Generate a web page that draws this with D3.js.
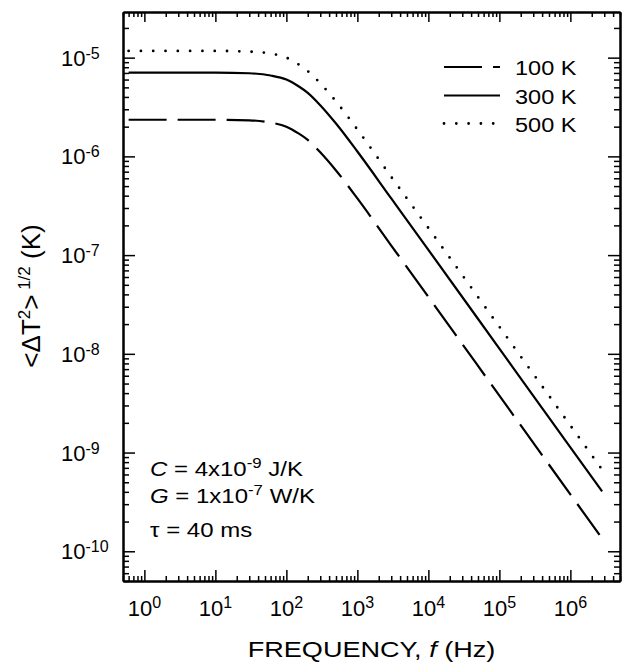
<!DOCTYPE html>
<html>
<head>
<meta charset="utf-8">
<script src="https://cdn.jsdelivr.net/npm/d3@7"></script>
<style>
  body { margin: 0; background: #fff; }
  text { font-family: "Liberation Sans", Arial, sans-serif; fill: #000; }
</style>
</head>
<body>
<svg id="chart" width="629" height="665"></svg>
<script>
var freq = [0.6, 1, 3, 10, 30, 60, 100, 150, 200, 300, 500, 1000, 3000, 1e4, 1e5, 1e6, 2.8e6];

// <dT^2>^1/2 (K) read for each temperature
var t100 = [2.35e-6, 2.35e-6, 2.35e-6, 2.35e-6, 2.32e-6, 2.2e-6, 2.0e-6, 1.7e-6, 1.47e-6, 1.1e-6, 7.2e-7, 3.75e-7, 1.25e-7, 3.77e-8, 3.77e-9, 3.77e-10, 1.35e-10];
var t300 = [7.05e-6, 7.05e-6, 7.05e-6, 7.05e-6, 6.95e-6, 6.6e-6, 6.0e-6, 5.1e-6, 4.4e-6, 3.3e-6, 2.15e-6, 1.12e-6, 3.75e-7, 1.13e-7, 1.13e-8, 1.13e-9, 4.05e-10];
var t500 = [1.17e-5, 1.17e-5, 1.17e-5, 1.17e-5, 1.15e-5, 1.1e-5, 1.0e-5, 8.5e-6, 7.3e-6, 5.5e-6, 3.6e-6, 1.87e-6, 6.2e-7, 1.88e-7, 1.88e-8, 1.88e-9, 6.7e-10];

var labels = ["100 K", "300 K", "500 K"];

var xMajor = [1, 10, 100, 1e3, 1e4, 1e5, 1e6];
var xExp = ["0", "1", "2", "3", "4", "5", "6"];
var yMajor = [1e-10, 1e-9, 1e-8, 1e-7, 1e-6, 1e-5];
var yExp = ["-10", "-9", "-8", "-7", "-6", "-5"];

(function() {
  var svg = d3.select("#chart");
  var mLeft = 123, mRight = 620, mTop = 12, mBottom = 581;

  var x = d3.scaleLog().domain([0.5, 5e6]).range([mLeft, mRight]);
  var y = d3.scaleLog().domain([5e-11, 2.9e-5]).range([mBottom, mTop]);

  var isMajor = function(v) { return Math.abs(Math.log10(v) - Math.round(Math.log10(v))) < 1e-6; };
  var xMinor = x.ticks().filter(function(v) { return !isMajor(v); });
  var yMinor = y.ticks().filter(function(v) { return !isMajor(v); });

  // axes, ticks pointing inwards
  function drawAxis(gen, tx, ty) {
    var g = svg.append("g").attr("transform", "translate(" + tx + "," + ty + ")").call(gen);
    g.select(".domain").attr("stroke-width", 2);
    g.selectAll(".tick line").attr("stroke-width", 1.5);
    g.selectAll(".tick text").remove();
  }
  drawAxis(d3.axisBottom(x).tickValues(xMajor).tickSize(-11).tickSizeOuter(0), 0, mBottom);
  drawAxis(d3.axisBottom(x).tickValues(xMinor).tickSize(-5).tickSizeOuter(0), 0, mBottom);
  drawAxis(d3.axisTop(x).tickValues(xMajor).tickSize(-10).tickSizeOuter(0), 0, mTop);
  drawAxis(d3.axisTop(x).tickValues(xMinor).tickSize(-5).tickSizeOuter(0), 0, mTop);
  drawAxis(d3.axisLeft(y).tickValues(yMajor).tickSize(-12).tickSizeOuter(0), mLeft, 0);
  drawAxis(d3.axisLeft(y).tickValues(yMinor).tickSize(-6).tickSizeOuter(0), mLeft, 0);
  drawAxis(d3.axisRight(y).tickValues(yMajor).tickSize(-12).tickSizeOuter(0), mRight, 0);
  drawAxis(d3.axisRight(y).tickValues(yMinor).tickSize(-6).tickSizeOuter(0), mRight, 0);

  // tick labels with superscript exponents
  svg.selectAll(".xlab").data(xMajor).enter().append("text")
    .attr("class", "xlab")
    .attr("x", function(d) { return x(d); })
    .attr("y", 616)
    .attr("text-anchor", "middle")
    .style("font-size", "22px")
    .each(function(d, i) {
      var t = d3.select(this);
      t.append("tspan").text("10");
      t.append("tspan").attr("dy", -8).style("font-size", "16px").text(xExp[i]);
    });

  svg.selectAll(".ylab").data(yMajor).enter().append("text")
    .attr("class", "ylab")
    .attr("x", 61)
    .attr("y", function(d) { return y(d) + 8; })
    .style("font-size", "22px")
    .each(function(d, i) {
      var t = d3.select(this);
      t.append("tspan").text("10");
      t.append("tspan").attr("dy", -7).style("font-size", "16px").text(yExp[i]);
    });

  // curves
  var styles = [
    { data: t100, dash: "38 11", width: 2.2, cap: "butt" },
    { data: t300, dash: null, width: 2.2, cap: "butt" },
    { data: t500, dash: "0 12.3", width: 2.8, cap: "round" }
  ];

  var line = d3.line()
    .x(function(d) { return x(d[0]); })
    .y(function(d) { return y(d[1]); })
    .curve(d3.curveMonotoneX);

  styles.forEach(function(s) {
    svg.append("path")
      .datum(d3.zip(freq, s.data))
      .attr("d", line)
      .attr("fill", "none")
      .attr("stroke", "#000")
      .attr("stroke-width", s.width)
      .attr("stroke-linecap", s.cap)
      .attr("stroke-dasharray", s.dash);
  });

  // legend
  var legBase = [75, 103.5, 131.5];
  styles.forEach(function(s, i) {
    svg.append("line")
      .attr("x1", 444).attr("x2", 500)
      .attr("y1", legBase[i] - 8).attr("y2", legBase[i] - 8)
      .attr("stroke", "#000")
      .attr("stroke-width", s.width)
      .attr("stroke-linecap", s.cap)
      .attr("stroke-dasharray", s.dash);
    svg.append("text")
      .attr("transform", "translate(515," + legBase[i] + ") scale(1.12,1)")
      .style("font-size", "21px")
      .text(labels[i]);
  });

  // parameters
  var notes = [
    { it: "C", rest: " = 4x10", sup: "-9", tail: " J/K", y: 476 },
    { it: "G", rest: " = 1x10", sup: "-7", tail: " W/K", y: 503 }
  ];
  notes.forEach(function(n) {
    var t = svg.append("text")
      .attr("transform", "translate(150," + n.y + ") scale(1.2,1)")
      .style("font-size", "20px");
    t.append("tspan").style("font-style", "italic").text(n.it);
    t.append("tspan").text(n.rest);
    t.append("tspan").attr("dy", -8).style("font-size", "14px").text(n.sup);
    t.append("tspan").attr("dy", 8).text(n.tail);
  });
  svg.append("text")
    .attr("transform", "translate(150,537) scale(1.2,1)")
    .style("font-size", "20px")
    .text("\u03c4 = 40 ms");

  // axis titles
  var xt = svg.append("text")
    .attr("transform", "translate(371.5,657) scale(1.23,1)")
    .attr("text-anchor", "middle")
    .style("font-size", "22px");
  xt.append("tspan").text("FREQUENCY, ");
  xt.append("tspan").style("font-style", "italic").text("f");
  xt.append("tspan").text(" (Hz)");

  var yt = svg.append("text")
    .attr("transform", "translate(40,296) rotate(-90)")
    .attr("text-anchor", "middle")
    .style("font-size", "26px");
  yt.append("tspan").text("<\u0394T");
  yt.append("tspan").attr("dy", -10).style("font-size", "17px").text("2");
  yt.append("tspan").attr("dy", 10).text(">");
  yt.append("tspan").attr("dy", -10).style("font-size", "17px").text(" 1/2");
  yt.append("tspan").attr("dy", 10).text(" (K)");
})();
</script>
</body>
</html>
